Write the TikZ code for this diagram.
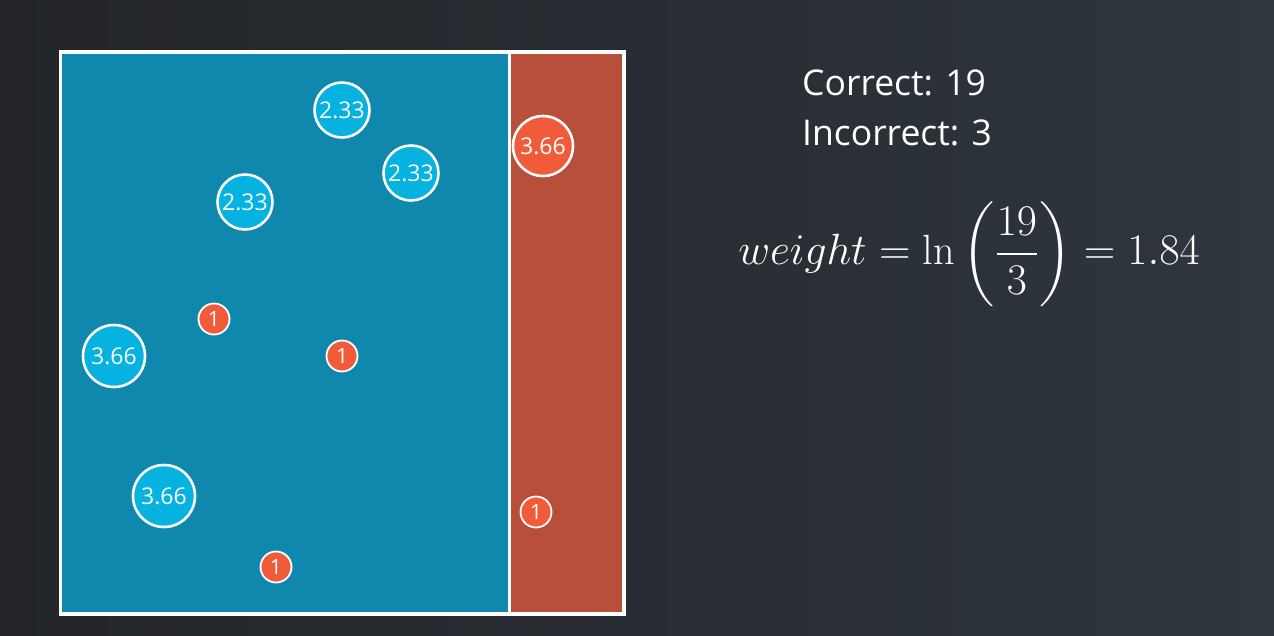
\documentclass[tikz,border=0pt]{standalone}
\usepackage{fontspec}
\setsansfont{Open Sans}
\usepackage{amsmath}
\definecolor{bgL}{HTML}{222428}
\definecolor{bgR}{HTML}{2F363E}
\definecolor{blueReg}{HTML}{1088AD}
\definecolor{redReg}{HTML}{B74F3A}
\definecolor{bluePt}{HTML}{05B2E0}
\definecolor{redPt}{HTML}{F05B3A}
\tikzset{
  bigpt/.style={circle, draw=white, line width=2.6pt, minimum size=#1, inner sep=0pt,
    text=white, font=\sffamily\fontsize{23}{23}\selectfont},
  bluebig/.style={bigpt=#1, fill=bluePt},
  redbig/.style={bigpt=#1, fill=redPt},
  smallpt/.style={circle, draw=white, line width=1.8pt, minimum size=31pt, inner sep=0pt,
    fill=redPt, text=white, font=\sffamily\fontsize{21}{21}\selectfont},
  label/.style={anchor=base west, text=white, font=\sffamily\fontsize{35.5}{36}\selectfont, inner sep=0pt}
}
\begin{document}
\begin{tikzpicture}[x=1pt,y=-1pt]
\useasboundingbox (0,0) rectangle (1274,635);
\shade[left color=bgL, right color=bgR] (0,0) rectangle (1274,635);
% regions
\fill[white] (59,50) rectangle (626,616);
\fill[blueReg] (62,54) rectangle (508,612);
\fill[redReg] (511,54) rectangle (622,612);
% points
\node[bluebig=55pt] (a1) at (342,110) {2.33};
\node[bluebig=55pt] (a2) at (411,173) {2.33};
\node[bluebig=55pt] (a3) at (245,202) {2.33};
\node[redbig=60pt] (r1) at (543,146) {3.66};
\node[bluebig=62pt] (b1) at (114,356) {3.66};
\node[bluebig=62pt] (b2) at (164,496) {3.66};
\node[smallpt] (s1) at (214,319) {1};
\node[smallpt] (s2) at (342,356) {1};
\node[smallpt] (s3) at (536,512) {1};
\node[smallpt] (s4) at (276,567) {1};
% text
\node[label] (c) at (802,95) {Correct: 19};
\node[label] (i) at (802,145) {Incorrect: 3};
\node[text=white, inner sep=0pt, scale=2.11, transform shape, font=\fontsize{20}{24}\selectfont] (w) at (969,254)
  {$weight = \ln\left(\dfrac{19}{3}\right) = 1.84$};
\end{tikzpicture}
\end{document}
